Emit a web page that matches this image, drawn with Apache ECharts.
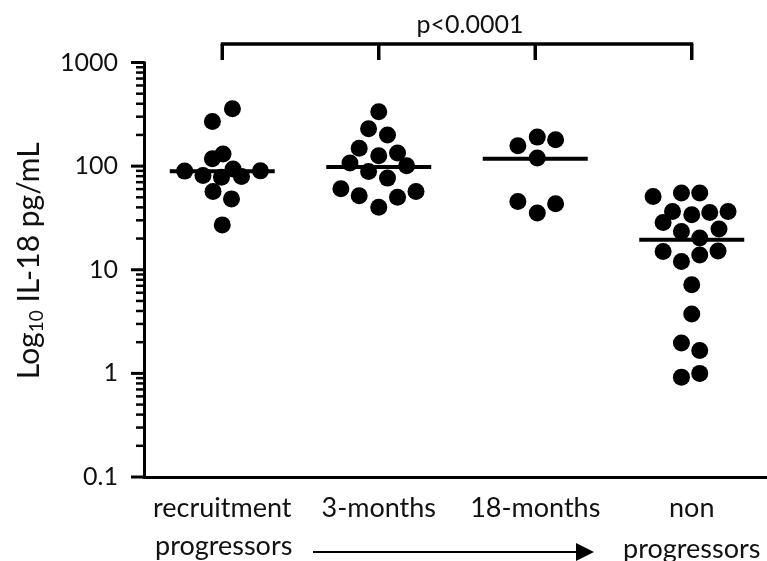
<!DOCTYPE html>
<html><head><meta charset="utf-8">
<script src="https://cdn.jsdelivr.net/npm/echarts@6/dist/echarts.min.js"></script>
<style>html,body{margin:0;padding:0;background:#fff}#c{width:767px;height:561px}</style>
</head><body><div id="c"></div>
<script>
// ---- data ----
const categories = ['recruitment', '3-months', '18-months', 'non\nprogressors'];
const yTickValues = [0.1, 1, 10, 100, 1000];

// x = group index + horizontal jitter offset, y = IL-18 pg/mL
const recruitmentOffset = [0.065, -0.063, 0.005, -0.063, -0.240, -0.123, -0.005, 0.069, 0.123, 0.244, -0.059, 0.059, 0.0];
const recruitmentValue  = [357, 270, 131, 118, 89.5, 81, 78, 93.6, 79.4, 90, 57, 48.3, 27.1];

const threeMonthOffset = [0.0, -0.065, 0.056, -0.125, 0.0, 0.120, -0.184, 0.178, -0.065, 0.056, -0.242, -0.125, 0.238, 0.120, 0.0];
const threeMonthValue  = [334, 229, 200, 149, 126, 134, 107, 101, 88.7, 76.6, 60.4, 51.7, 56.9, 50.2, 40.2];

const eighteenMonthOffset = [-0.111, 0.013, 0.130, 0.013, -0.111, 0.013, 0.130];
const eighteenMonthValue  = [157, 190.5, 179.5, 119.5, 45.5, 35.2, 43.3];

const nonProgOffset = [-0.247, -0.066, 0.051, -0.123, 0.0, 0.115, 0.232, -0.183, -0.066, 0.174, 0.051, -0.183, -0.066, 0.051, 0.168, 0.0, 0.0, -0.066, 0.051, -0.066, 0.051];
const nonProgValue  = [50.9, 54.9, 54.9, 36.5, 33.9, 35.7, 36.5, 28.6, 23.4, 24.7, 20.2, 15.0, 12.0, 13.9, 15.2, 7.15, 3.75, 1.96, 1.66, 0.92, 1.0];

const medians = [89, 98, 118, 19.5];
const bracketGroups = [0, 1, 2, 3];
const pText = 'p<0.0001';
const yTitle = '{a|Log}{s|10}{a| IL-18 pg/mL}';
const arrowLabel = 'progressors';

// ---- build ----
const groups = [
  [recruitmentOffset, recruitmentValue],
  [threeMonthOffset, threeMonthValue],
  [eighteenMonthOffset, eighteenMonthValue],
  [nonProgOffset, nonProgValue]
];
const dots = [];
groups.forEach(([off, val], g) => off.forEach((o, k) => dots.push([g + o, val[k]])));

const minorTickValues = [];
for (let d = 0; d < yTickValues.length - 1; d++) {
  for (let m = 2; m <= 9; m++) minorTickValues.push(+(yTickValues[d] * m).toPrecision(6));
}

const FONT = 'Lato, "Open Sans", sans-serif';
const chart = echarts.init(document.getElementById('c'), null, {renderer: 'canvas'});
const baseGraphic = [
  {type: 'text', x: 470, y: 25, style: {text: pText, fill: '#111', font: '25px ' + FONT, align: 'center', verticalAlign: 'middle'}},
  {type: 'text', x: 155, y: 546, style: {text: arrowLabel, fill: '#111', font: '27px ' + FONT, align: 'left', verticalAlign: 'middle'}},
  {type: 'line', shape: {x1: 313, y1: 552, x2: 580, y2: 552}, style: {stroke: '#000', lineWidth: 2}},
  {type: 'polygon', shape: {points: [[576, 543], [594, 552], [576, 561]]}, style: {fill: '#000'}}
];
chart.setOption({
  animation: false,
  backgroundColor: '#fff',
  grid: {left: 144, right: -3, top: 62.5, bottom: 84, containLabel: false, outerBoundsMode: 'none'},
  xAxis: [{
    type: 'category', data: categories, boundaryGap: true,
    axisLine: {onZero: false, lineStyle: {color: '#000', width: 3}},
    axisTick: {alignWithLabel: true, length: 12, lineStyle: {color: '#000', width: 3}},
    axisLabel: {interval: 0, color: '#111', fontFamily: FONT, fontSize: 27, margin: 11, lineHeight: 41},
    splitLine: {show: false}
  }, {
    type: 'value', min: -0.5, max: 3.5, show: false
  }],
  yAxis: [{
    type: 'log', logBase: 10, min: 0.1, max: 1000, position: 'left',
    axisLine: {show: true, onZero: false, lineStyle: {color: '#000', width: 3}},
    axisTick: {show: false},
    axisLabel: {color: '#111', fontFamily: FONT, fontSize: 25, margin: 26,
      formatter: v => String(+(+v).toPrecision(6))},
    splitLine: {show: false},
    name: yTitle, nameLocation: 'middle', nameRotate: 90, nameGap: 98,
    nameTextStyle: {
      color: '#111', fontFamily: FONT, padding: [0, 0, 0, 18],
      rich: {
        a: {fontFamily: FONT, fontSize: 30, color: '#111', lineHeight: 34, verticalAlign: 'middle'},
        s: {fontFamily: FONT, fontSize: 19, color: '#111', lineHeight: 15, verticalAlign: 'bottom'}
      }
    }
  }],
  series: [{
    type: 'scatter', xAxisIndex: 1, yAxisIndex: 0, data: dots, symbol: 'circle', symbolSize: 17,
    itemStyle: {color: '#000', opacity: 1}, z: 3
  }, {
    type: 'scatter', xAxisIndex: 1, yAxisIndex: 0, data: medians.map((m, i) => [i, m]),
    symbol: 'rect', symbolSize: [105, 4], itemStyle: {color: '#000', opacity: 1}, z: 4
  }, {
    type: 'custom', xAxisIndex: 1, yAxisIndex: 0, silent: true, clip: false, data: [[0, 1000]],
    renderItem: (params, api) => {
      const xs = bracketGroups.map(i => api.coord([i, 1000])[0]);
      const top = api.coord([0, 1000])[1];
      const yb = top - 18.5, yf = top - 2.5;
      const children = [{type: 'line', shape: {x1: xs[0] - 1.5, y1: yb, x2: xs[xs.length - 1] + 1.5, y2: yb},
        style: {stroke: '#000', lineWidth: 3.5}}];
      xs.forEach(x => children.push({type: 'line', shape: {x1: x, y1: yb, x2: x, y2: yf},
        style: {stroke: '#000', lineWidth: 3.5}}));
      return {type: 'group', children};
    }
  }],
  graphic: baseGraphic
});

// y-axis tick marks (major + log-spaced minor), positioned through the axis scale
const tickGraphic = [];
const addTicks = (vals, len, w) => vals.forEach(v => {
  const py = chart.convertToPixel({yAxisIndex: 0}, v);
  const px = chart.convertToPixel({xAxisIndex: 1}, -0.5);
  tickGraphic.push({type: 'line', z: 100, shape: {x1: px - len, y1: py, x2: px, y2: py},
    style: {stroke: '#000', lineWidth: w}});
});
addTicks(yTickValues, 13, 3);
addTicks(minorTickValues, 8, 2.5);
chart.setOption({graphic: baseGraphic.concat(tickGraphic)});
</script>
</body></html>
